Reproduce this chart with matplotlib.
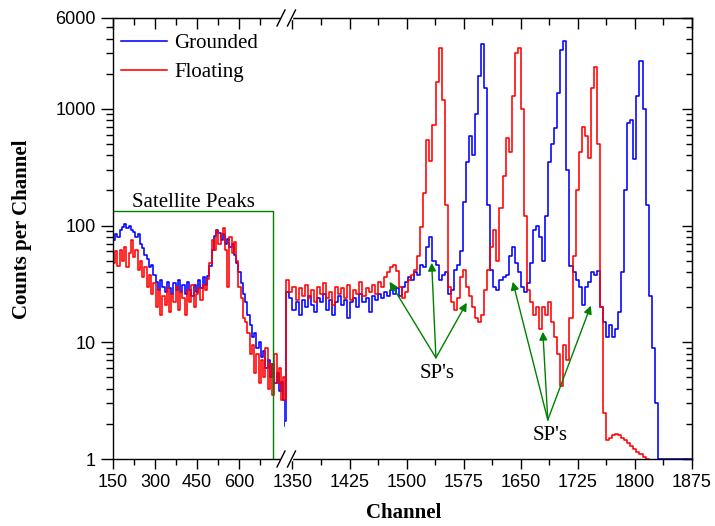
import numpy as np
import matplotlib.pyplot as plt
from matplotlib.lines import Line2D
from matplotlib.ticker import LogLocator, NullFormatter

plt.rcParams['font.family'] = ['Liberation Serif', 'DejaVu Serif']

# ---- data: counts per channel ----
# left part of the broken axis, 8-channel bins starting at 142
ch_left = np.arange(142, 774, 8)
grounded_left = [
    3.0, 75, 84, 80, 92, 98, 104, 96, 100, 92,
    88, 80, 84, 70, 64, 56, 52, 44, 46, 38,
    33, 28, 34, 30, 27, 33, 29, 26, 32, 28,
    34, 27, 31, 26, 33, 28, 25, 31, 27, 34,
    29, 36, 31, 37, 45, 62, 82, 92, 86, 75,
    84, 70, 76, 66, 70, 56, 48, 40, 32, 26,
    22, 17, 14, 11, 12, 9, 10, 7.5, 8.5, 6,
    7, 5, 6.5, 4.5, 5.5, 3.8, 4.6, 3.2, 1.9,
]
floating_left = [
    30, 48, 60, 45, 62, 50, 66, 44, 58, 75,
    54, 62, 42, 50, 36, 44, 30, 38, 26, 32,
    20, 28, 17, 25, 21, 29, 18, 26, 22, 30,
    19, 27, 24, 17, 28, 22, 31, 20, 26, 29,
    23, 31, 28, 35, 48, 75, 62, 90, 70, 85,
    95, 62, 30, 80, 58, 72, 50, 30, 24, 16,
    15, 12, 8, 9.5, 5.5, 8, 4.5, 7, 5, 9,
    4, 6.5, 3.5, 8, 4.5, 6, 3.2, 5, 3.2,
]

# right part of the broken axis, 4-channel bins starting at 1338
ch_right = np.arange(1338, 1878, 4)
grounded_right = [
    2.1, 27, 24, 19, 22, 17, 23, 20, 25, 21,
    18, 24, 22, 26, 19, 23, 17, 22, 25, 21,
    23, 16, 22, 24, 20, 26, 22, 24, 18, 25,
    23, 26, 24, 27, 25, 28, 26, 29, 25, 30,
    33, 36, 34, 40, 38, 46, 44, 65, 80, 50,
    46, 34, 38, 40, 26, 28, 42, 46, 60, 160,
    350, 580, 400, 900, 1900, 3600, 1500, 150, 42, 30,
    28, 34, 36, 38, 55, 66, 48, 40, 30, 27,
    32, 48, 92, 100, 80, 50, 120, 350, 500, 690,
    1370, 3200, 3800, 300, 45, 40, 34, 30, 21, 30,
    33, 40, 38, 41, 20, 15, 11, 14, 11, 13,
    18, 40, 200, 760, 800, 370, 1300, 2550, 1000, 150,
    25, 9, 3, 1, 1, 1, 1, 1, 1, 1,
    1, 1, 1, 1, 1,
]
floating_right = [
    3.2, 34, 27, 30, 23, 29, 25, 31, 24, 28,
    22, 30, 26, 32, 24, 27, 21, 30, 26, 29,
    24, 31, 23, 28, 26, 33, 25, 29, 27, 31,
    26, 33, 30, 36, 40, 44, 46, 41, 30, 24,
    27, 34, 38, 42, 55, 98, 190, 540, 360, 720,
    1700, 3300, 1200, 150, 30, 22, 19, 24, 36, 42,
    30, 25, 20, 16, 15, 17, 28, 42, 66, 92,
    50, 140, 265, 560, 430, 1300, 3000, 3300, 1000, 120,
    28, 22, 17, 20, 13, 20, 17, 22, 15, 11,
    8, 4.2, 9.5, 7, 16, 55, 200, 430, 700, 580,
    380, 1500, 2300, 500, 20, 2.5, 1.45, 1.5, 1.6, 1.65,
    1.6, 1.52, 1.45, 1.38, 1.3, 1.22, 1.15, 1.1, 1.05, 1.0,
    0.9, 0.9, 0.9, 0.9, 0.9, 0.9, 0.9, 0.9, 0.9, 0.9,
    0.9, 0.9, 0.9, 0.9, 0.9,
]

y_ticks = [1, 10, 100, 1000, 6000]
y_tick_labels = ['1', '10', '100', '1000', '6000']
x_ticks_left = [150, 300, 450, 600]
x_minor_left = [225, 375, 525, 675]
x_ticks_right = np.arange(1350, 1876, 75)
x_minor_right = np.arange(1387.5, 1876, 75)

W, H = 715, 526
left_px, right_px, break_px = 113, 692, 285.4
bottom_px, top_px = 459, 18

BLUE = '#0000ff'
RED = '#ff0000'
GREEN = '#008000'


def fx(px):
    return px / W


def fy(py):
    return 1 - py / H


fig = plt.figure(figsize=(W / 100, H / 100), dpi=100)
axl = fig.add_axes([fx(left_px), fy(bottom_px), (break_px - left_px) / W,
                    (bottom_px - top_px) / H])
axr = fig.add_axes([fx(break_px), fy(bottom_px), (right_px - break_px) / W,
                    (bottom_px - top_px) / H], sharey=axl)

for ax, ch, g, f in [(axl, ch_left, grounded_left, floating_left),
                     (axr, ch_right, grounded_right, floating_right)]:
    ax.step(ch, g, where='post', color=BLUE, lw=1.15, label='Grounded')
    ax.step(ch, f, where='post', color=RED, lw=1.15, label='Floating')

axl.set_yscale('log')
axl.set_ylim(1, 6000)
axl.set_xlim(150, 150 + (break_px - left_px) / 0.28)
axr.set_xlim(1875 - (right_px - break_px) / 0.761, 1875)

axl.spines['right'].set_visible(False)
axr.spines['left'].set_visible(False)
for ax in (axl, axr):
    for s in ax.spines.values():
        s.set_linewidth(1.0)

# y axis (left, outward)
axl.set_yticks(y_ticks)
axl.set_yticklabels(y_tick_labels)
axl.yaxis.set_minor_locator(LogLocator(base=10, subs=np.arange(2, 10)))
axl.yaxis.set_minor_formatter(NullFormatter())
axl.tick_params(axis='y', which='major', direction='out', length=9, width=1,
                labelsize=13, pad=3.5, labelfontfamily='Liberation Sans')
axl.tick_params(axis='y', which='minor', direction='out', length=5, width=1)
axr.tick_params(axis='y', which='both', left=False, right=False,
                labelleft=False)

# bottom x axes (outward)
axl.set_xticks(x_ticks_left)
axl.set_xticks(x_minor_left, minor=True)
axr.set_xticks(x_ticks_right)
axr.set_xticks(x_minor_right, minor=True)
for ax in (axl, axr):
    ax.tick_params(axis='x', which='major', direction='out', length=7,
                   width=1, labelsize=13, pad=4,
                   labelfontfamily='Liberation Sans')
    ax.tick_params(axis='x', which='minor', direction='out', length=4,
                   width=1)

# top x axes (inward)
for ax, maj, mnr in [(axl, x_ticks_left, x_minor_left),
                     (axr, x_ticks_right, x_minor_right)]:
    top = ax.secondary_xaxis('top')
    top.set_xticks(maj)
    top.set_xticks(mnr, minor=True)
    top.tick_params(which='major', direction='in', length=8, width=1,
                    labeltop=False)
    top.tick_params(which='minor', direction='in', length=5, width=1)

# right y axis (inward)
ry = axr.secondary_yaxis('right')
ry.set_yticks(y_ticks)
ry.yaxis.set_minor_locator(LogLocator(base=10, subs=np.arange(2, 10)))
ry.yaxis.set_minor_formatter(NullFormatter())
ry.tick_params(which='major', direction='in', length=7, width=1,
               labelright=False)
ry.tick_params(which='minor', direction='in', length=4, width=1)

# satellite peak box and label
axl.plot([150, 720, 720], [132, 132, 1], color=GREEN, lw=1)
axl.text(436, 143, 'Satellite Peaks', ha='center', va='baseline',
         fontsize=15)

axl.legend(loc='upper left', bbox_to_anchor=(0.0, 1 - 7.0 / 441),
           frameon=False, fontsize=15, handlelength=2.2,
           handletextpad=0.35, labelspacing=0.45, borderaxespad=0)

# SP arrows
sp_groups = [
    ((1538.5, 7.36), (1539.5, 4.93),
     [(1477.6, 33), (1532.9, 48), (1579, 21.8)]),
    ((1685.5, 2.16), (1688.8, 1.456),
     [(1639.5, 33), (1679, 12.3), (1742, 20.6)]),
]
for start, label_pos, targets in sp_groups:
    for tgt in targets:
        axr.annotate('', xy=tgt, xytext=start,
                     arrowprops=dict(arrowstyle='-|>', color=GREEN, lw=1,
                                     mutation_scale=12, shrinkA=0,
                                     shrinkB=0))
    axr.text(label_pos[0], label_pos[1], "SP's", ha='center',
             va='baseline', fontsize=15)

# axis break marks
for ypx in (bottom_px, top_px):
    fig.add_artist(Line2D([fx(281.5), fx(291)], [fy(ypx), fy(ypx)],
                          color='white', lw=2.5))
    for xc in (281, 291.5):
        fig.add_artist(Line2D([fx(xc - 4), fx(xc + 4)],
                              [fy(ypx + 8), fy(ypx - 8)],
                              color='black', lw=1))

fig.text(fx(22), fy(229), 'Counts per Channel', rotation=90, ha='center',
         va='center', fontsize=15, fontweight='bold')
fig.text(fx(404), fy(513), 'Channel', ha='center', va='center',
         fontsize=15, fontweight='bold')

fig.savefig('out.png', dpi=100)
